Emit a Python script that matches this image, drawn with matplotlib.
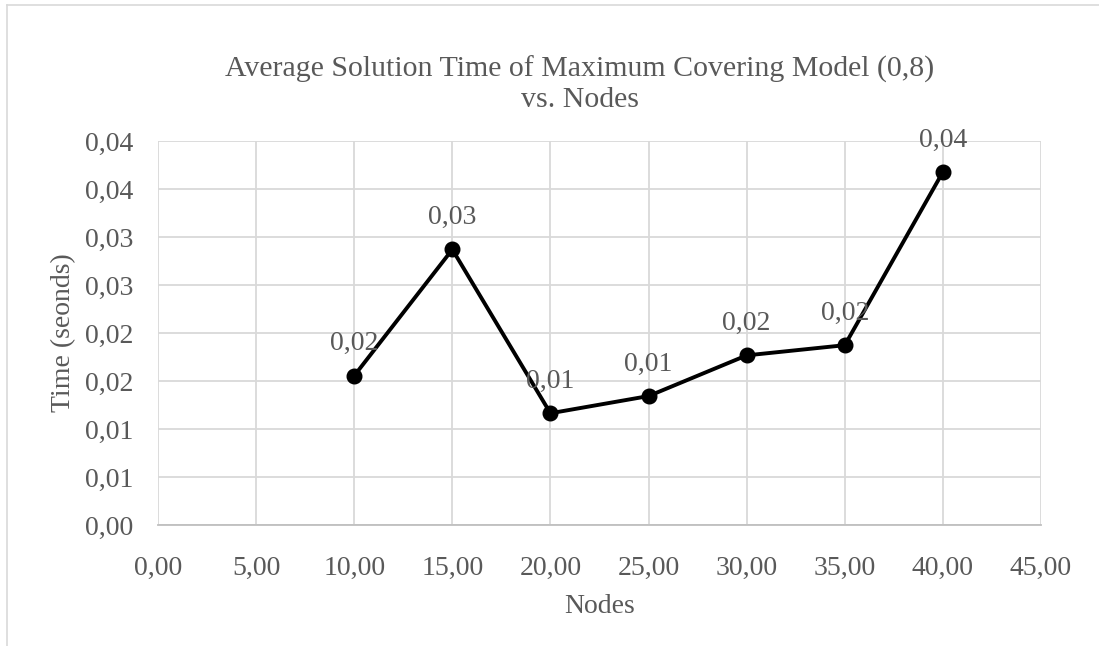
import matplotlib
matplotlib.use("Agg")
import matplotlib.pyplot as plt
from matplotlib.ticker import FuncFormatter, MultipleLocator
from matplotlib.lines import Line2D

nodes = [10, 15, 20, 25, 30, 35, 40]
times = [0.01555, 0.0287, 0.01164, 0.01343, 0.01767, 0.01873, 0.03677]

title = "Average Solution Time of Maximum Covering Model (0,8)\nvs. Nodes"
xlabel = "Nodes"
ylabel = "Time (seonds)"

txt = "#595959"
plt.rcParams['font.family'] = ['Liberation Serif', 'DejaVu Serif']


def comma(v, pos=None):
    return f"{v + 1e-9:.2f}".replace('.', ',')


fig = plt.figure(figsize=(10.99, 6.46), dpi=100)
ax = fig.add_axes([158 / 1099, 121 / 646, (1041 - 158) / 1099, (525 - 141) / 646])

ax.plot(nodes, times, color="black", lw=2.8, marker="o", ms=10.5, zorder=3)
for x, y in zip(nodes, times):
    ax.annotate(comma(y), (x, y), xytext=(0, 14), textcoords="offset points",
                ha="center", va="bottom", fontsize=20, color=txt, zorder=4)

ax.set_xlim(0, 45)
ax.set_ylim(0, 0.04)
ax.xaxis.set_major_locator(MultipleLocator(5))
ax.yaxis.set_major_locator(MultipleLocator(0.005))
ax.xaxis.set_major_formatter(FuncFormatter(comma))
ax.yaxis.set_major_formatter(FuncFormatter(comma))
ax.grid(True, color="#d9d9d9", lw=1.3)
ax.set_axisbelow(True)
for s in ["top", "right", "left"]:
    ax.spines[s].set_visible(False)
ax.spines["bottom"].set_color("#bfbfbf")
ax.spines["bottom"].set_linewidth(1.3)
ax.tick_params(length=0, labelsize=20, labelcolor=txt)
ax.tick_params(axis="y", pad=18)
ax.tick_params(axis="x", pad=22)

ax.set_xlabel(xlabel, fontsize=20, color=txt, labelpad=10)
ax.set_ylabel(ylabel, fontsize=20, color=txt, labelpad=6)

fig.text(580 / 1099, 1 - 84 / 646, title, ha="center", va="center",
         fontsize=21.5, color=txt, linespacing=1.2)

# chart area border (top and left edges visible)
fig.add_artist(Line2D([7 / 1099, 7 / 1099], [0, 1 - 5 / 646], transform=fig.transFigure,
                      color="#d9d9d9", lw=1.2))
fig.add_artist(Line2D([7 / 1099, 1], [1 - 5 / 646, 1 - 5 / 646], transform=fig.transFigure,
                      color="#d9d9d9", lw=1.2))

fig.savefig("out.png", dpi=100)
